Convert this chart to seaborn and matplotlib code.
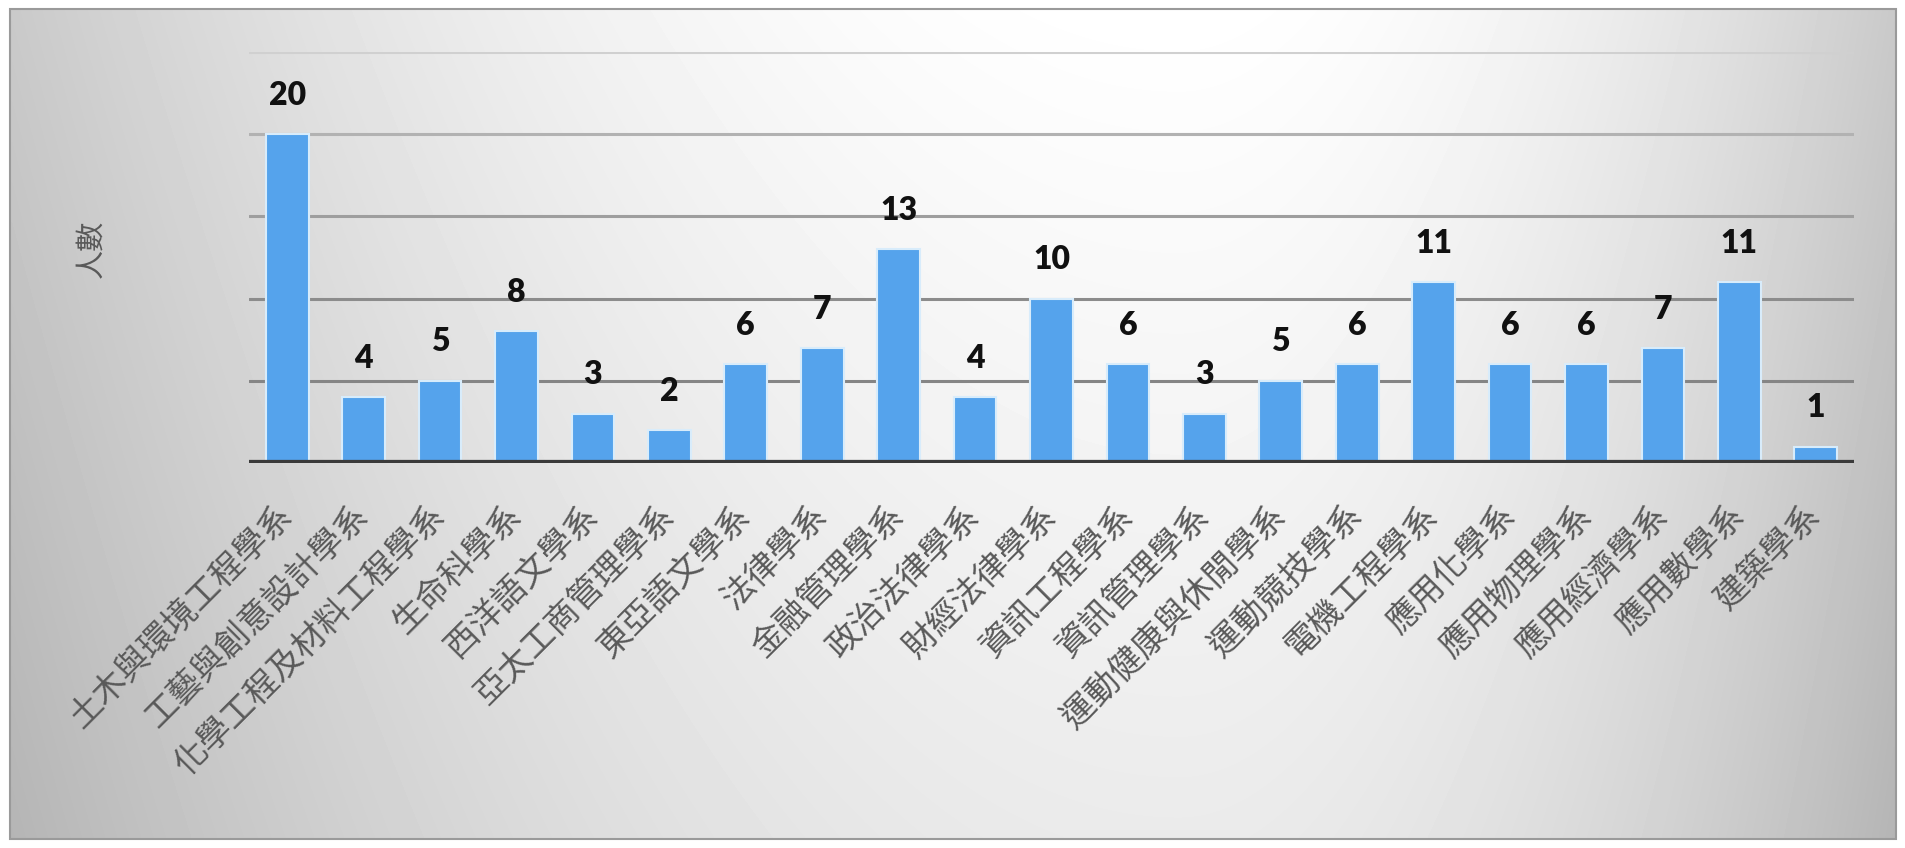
import numpy as np
import matplotlib
matplotlib.use("Agg")
import matplotlib.pyplot as plt
import matplotlib.transforms as mtransforms
from matplotlib.patches import Rectangle
import seaborn as sns

# data
departments = [
    "土木與環境工程學系", "工藝與創意設計學系", "化學工程及材料工程學系", "生命科學系",
    "西洋語文學系", "亞太工商管理學系", "東亞語文學系", "法律學系", "金融管理學系",
    "政治法律學系", "財經法律學系", "資訊工程學系", "資訊管理學系", "運動健康與休閒學系",
    "運動競技學系", "電機工程學系", "應用化學系", "應用物理學系", "應用經濟學系",
    "應用數學系", "建築學系",
]
counts = [20, 4, 5, 8, 3, 2, 6, 7, 13, 4, 10, 6, 3, 5, 6, 11, 6, 6, 7, 11, 1]
y_ticks = [0, 5, 10, 15, 20, 25]
y_label = "人數"

sns.set_style("white")
plt.rcParams['font.family'] = ['Noto Sans CJK TC', 'DejaVu Sans']

W, H = 1906, 848
fig = plt.figure(figsize=(W / 100, H / 100), dpi=100)
fig.patch.set_facecolor("white")

# gradient panel behind the chart
bg = fig.add_axes([10 / W, 9 / H, 1886 / W, 830 / H])
gx = np.linspace(0, 1, 400)
gy = np.linspace(0, 1, 200)
X, Y = np.meshgrid(gx, gy)
cx = 0.62
dx = np.where(X < cx, (X - cx) / cx, (X - cx) / (1 - cx))
val = 1.0 - 0.21 * dx ** 2 - 0.08 * Y
bg.imshow(val, cmap="gray", vmin=0, vmax=1, aspect="auto", extent=(0, 1, 1, 0),
          interpolation="bilinear")
bg.set_xlim(0, 1)
bg.set_ylim(1, 0)
bg.axis("off")
fig.patches.append(Rectangle((10 / W, 9 / H), 1886 / W, 830 / H, transform=fig.transFigure,
                             fill=False, edgecolor="#9a9a9a", linewidth=1.5, zorder=5))

ax = fig.add_axes([249 / W, 385 / H, 1605 / W, 411 / H])
ax.patch.set_alpha(0)

grid_colors = ["#858585", "#8c8c8c", "#9e9e9e", "#b2b2b2", "#d0d0d0"]
for yv, c in zip(y_ticks[1:], grid_colors):
    ax.axhline(yv, color=c, linewidth=2.2, zorder=0)

sns.barplot(x=departments, y=counts, color="#55A3EC", width=0.56, edgecolor="#d8ecfb",
            linewidth=1.5, saturation=1, ax=ax, zorder=2)
ax.axhline(0, color="#3a3a3a", linewidth=4.5, zorder=3)

ax.set_ylim(0, 25)
ax.set_xlim(-0.5, len(departments) - 0.5)
ax.set_yticks(y_ticks)
ax.set_yticklabels([])
ax.tick_params(axis="y", length=0)
ax.tick_params(axis="x", length=0, pad=34)
for s in ax.spines.values():
    s.set_visible(False)
ax.set_xlabel("")
ax.set_ylabel("")

ax.set_xticks(range(len(departments)))
ax.set_xticklabels(departments, rotation=45, ha="right", va="center",
                   rotation_mode="anchor", fontsize=24, color="#595959",
                   fontweight="light")
shift = mtransforms.ScaledTranslation(0, 0, fig.dpi_scale_trans)
for lab in ax.get_xticklabels():
    lab.set_transform(lab.get_transform() + shift)

for i, v in enumerate(counts):
    ax.annotate(str(v), (i, v), xytext=(0, 28), textcoords="offset points",
                ha="center", va="center", fontsize=23, fontweight="heavy",
                color="#111111", family=["Lato", "DejaVu Sans"])

fig.text(91 / W, 1 - 249 / H, y_label, rotation=90, ha="center", va="center",
         fontsize=21, color="#595959", fontweight="light")

fig.savefig("out.png", dpi=100)
